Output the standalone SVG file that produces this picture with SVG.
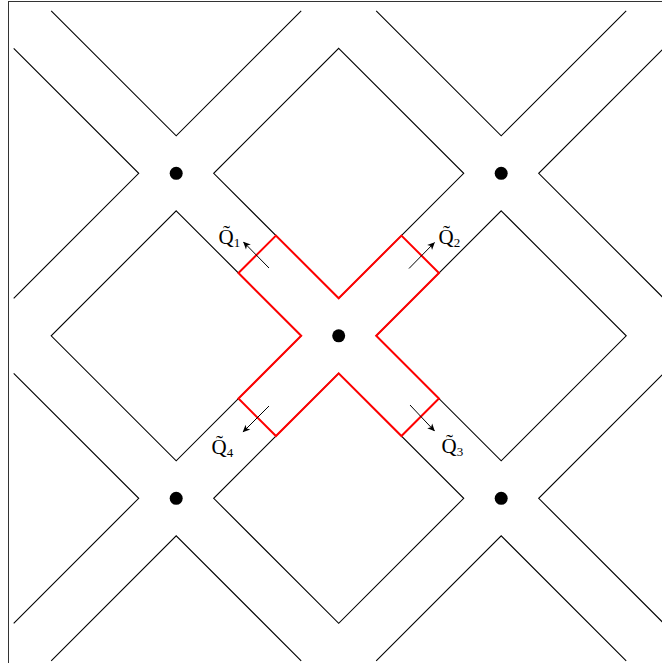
<svg xmlns="http://www.w3.org/2000/svg" width="662" height="663" viewBox="0 0 662 663">
<style>
.ln{fill:none;stroke:#000;stroke-width:1.1;stroke-linejoin:miter}
.red{fill:none;stroke:#f00;stroke-width:2;stroke-linejoin:miter}
.dot{fill:#000}
.arr{stroke:#000;stroke-width:1;fill:none;marker-end:url(#ah)}
.lbl{font-family:"Liberation Serif","DejaVu Serif",serif;font-size:21px;fill:#000}
.sub{font-size:13px}
</style>
<defs>
<marker id="ah" markerUnits="userSpaceOnUse" markerWidth="10" markerHeight="10" viewBox="-8 -5 9 10" refX="0" refY="0" orient="auto">
<path d="M0.5,0 L-7,-3.4 L-5,0 L-7,3.4 Z" fill="#000"/>
</marker>
</defs>
<rect id="frame" x="8.5" y="1.5" width="670" height="680" fill="none" stroke="#333" stroke-width="1"/>
<g id="tiles">
<path id="t-top" class="ln" d="M338.7,48.3 L463.7,173.3 L338.7,298.3 L213.7,173.3 Z"/>
<path id="t-left" class="ln" d="M176.2,210.8 L301.2,335.8 L176.2,460.8 L51.2,335.8 Z"/>
<path id="t-right" class="ln" d="M501.2,210.8 L626.2,335.8 L501.2,460.8 L376.2,335.8 Z"/>
<path id="t-bottom" class="ln" d="M338.7,373.3 L463.7,498.3 L338.7,623.3 L213.7,498.3 Z"/>
<path id="e1" class="ln" d="M13.7,48.3 L138.7,173.3 L13.7,298.3"/>
<path id="e2" class="ln" d="M13.7,373.3 L138.7,498.3 L13.7,623.3"/>
<path id="e3" class="ln" d="M663.7,48.3 L538.7,173.3 L663.7,298.3"/>
<path id="e4" class="ln" d="M663.7,373.3 L538.7,498.3 L663.7,623.3"/>
<path id="e5" class="ln" d="M51.2,10.8 L176.2,135.8 L301.2,10.8"/>
<path id="e6" class="ln" d="M376.2,10.8 L501.2,135.8 L626.2,10.8"/>
<path id="e7" class="ln" d="M51.2,660.8 L176.2,535.8 L301.2,660.8"/>
<path id="e8" class="ln" d="M376.2,660.8 L501.2,535.8 L626.2,660.8"/>
</g>
<g id="cross">
<path class="red" d="M338.7,298.3 L401.45,235.55 L438.95,273.05 L376.2,335.8 L438.95,398.55 L401.45,436.05 L338.7,373.3 L275.95,436.05 L238.45,398.55 L301.2,335.8 L238.45,273.05 L275.95,235.55 Z"/>
</g>
<g id="dots">
<circle class="dot" cx="176.2" cy="173.3" r="6.5"/>
<circle class="dot" cx="501.2" cy="173.3" r="6.5"/>
<circle class="dot" cx="338.7" cy="335.8" r="6.5"/>
<circle class="dot" cx="176.2" cy="498.3" r="6.5"/>
<circle class="dot" cx="501.2" cy="498.3" r="6.5"/>
</g>
<g id="connectors">
<line class="arr" x1="269" y1="268" x2="243.5" y2="242"/>
<line class="arr" x1="409" y1="268.5" x2="434.5" y2="242.5"/>
<line class="arr" x1="410" y1="405" x2="434.5" y2="431"/>
<line class="arr" x1="269" y1="406" x2="243" y2="432"/>
</g>
<g id="labels">
<text id="q1" class="lbl" x="218.5" y="244">Q̃<tspan class="sub" dy="3">1</tspan></text>
<text id="q2" class="lbl" x="438.5" y="244">Q̃<tspan class="sub" dy="3">2</tspan></text>
<text id="q3" class="lbl" x="441.5" y="453">Q̃<tspan class="sub" dy="3">3</tspan></text>
<text id="q4" class="lbl" x="211.5" y="454">Q̃<tspan class="sub" dy="3">4</tspan></text>
</g>
</svg>
